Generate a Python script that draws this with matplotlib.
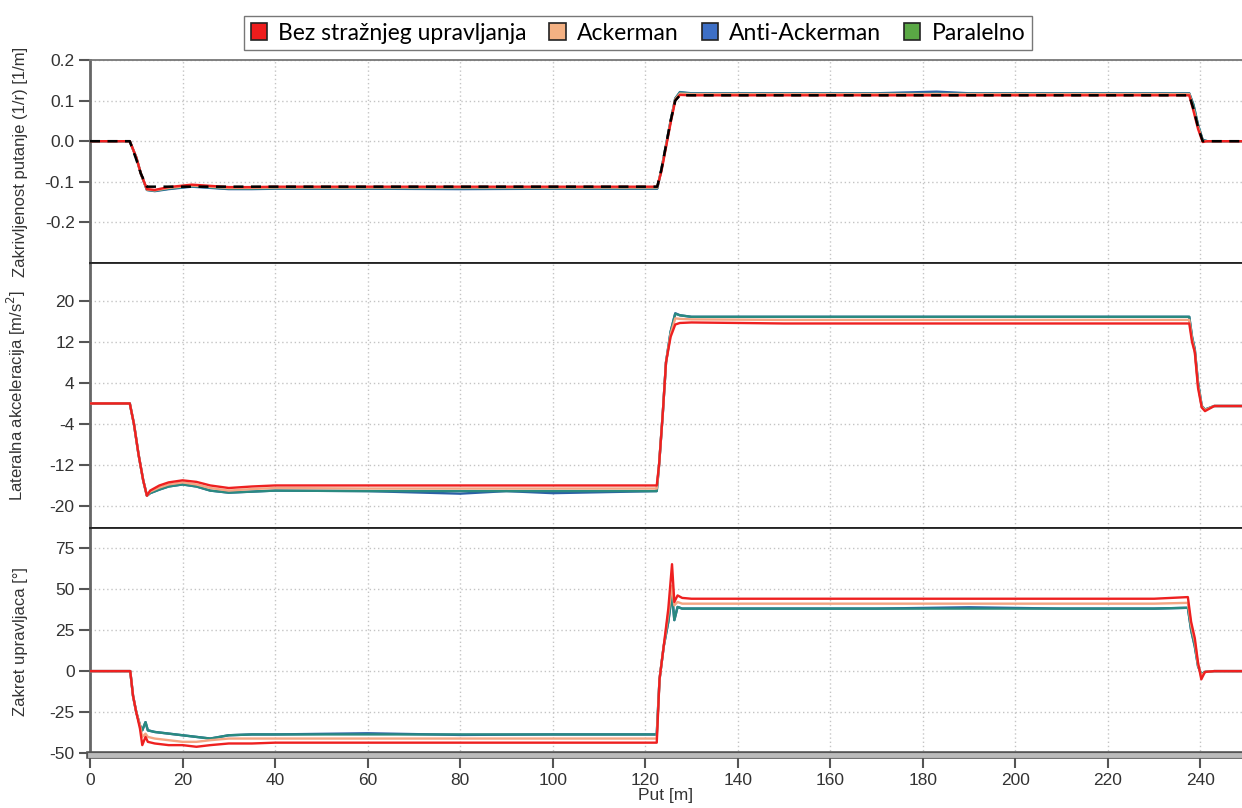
import matplotlib
matplotlib.use("Agg")
import matplotlib.pyplot as plt
import matplotlib.patches as mpatches
import matplotlib.patheffects as pe

plt.rcParams["font.family"] = ["Liberation Sans", "DejaVu Sans"]
plt.rcParams["axes.unicode_minus"] = False

# --- series names / colours ---
series_names = ["Bez stražnjeg upravljanja", "Ackerman", "Anti-Ackerman", "Paralelno"]
legend_colors = ["#ee1c1c", "#f4b183", "#3d6fc6", "#5aa845"]
line_colors = ["#ee2020", "#f4a582", "#2b5fa8", "#2a8a80"]

# --- curvature panel (1/m) ---
put_k = [0, 8.6, 10, 11, 12.3, 14, 17, 22, 26, 30, 35, 40, 60, 80, 100, 122.6,
         123.5, 124.5, 125.5, 126.5, 127.5, 130, 150, 170, 183, 190, 210, 230,
         237.6, 238.5, 239.5, 240.5, 241.5, 250]
k_ref = [0, 0, -0.045, -0.08, -0.112, -0.112, -0.112, -0.112, -0.112, -0.112, -0.112,
         -0.112, -0.112, -0.112, -0.112, -0.112, -0.07, -0.01, 0.05, 0.1, 0.113,
         0.113, 0.113, 0.113, 0.113, 0.113, 0.113, 0.113, 0.113, 0.08, 0.035, 0.0,
         0.0, 0.0]
k_bez = [0, 0, -0.04, -0.08, -0.118, -0.12, -0.113, -0.107, -0.11, -0.113, -0.113,
         -0.112, -0.112, -0.112, -0.112, -0.112, -0.075, -0.015, 0.045, 0.1, 0.114,
         0.113, 0.113, 0.113, 0.113, 0.113, 0.113, 0.113, 0.113, 0.075, 0.03, -0.002,
         0.0, 0.0]
k_ack = [0, 0, -0.04, -0.08, -0.119, -0.121, -0.115, -0.109, -0.112, -0.115, -0.115,
         -0.114, -0.114, -0.114, -0.114, -0.114, -0.072, -0.012, 0.048, 0.103, 0.117,
         0.116, 0.116, 0.116, 0.116, 0.116, 0.116, 0.116, 0.116, 0.08, 0.035, 0.0,
         0.0, 0.0]
k_anti = [0, 0, -0.04, -0.08, -0.12, -0.123, -0.118, -0.112, -0.115, -0.118, -0.118,
          -0.117, -0.117, -0.118, -0.117, -0.117, -0.07, -0.01, 0.05, 0.105, 0.121,
          0.118, 0.118, 0.118, 0.122, 0.118, 0.118, 0.118, 0.118, 0.09, 0.04, 0.003,
          0.0, 0.0]
k_par = [0, 0, -0.04, -0.08, -0.12, -0.122, -0.117, -0.111, -0.114, -0.117, -0.117,
         -0.116, -0.116, -0.116, -0.116, -0.116, -0.07, -0.01, 0.05, 0.105, 0.12,
         0.117, 0.117, 0.117, 0.117, 0.117, 0.117, 0.117, 0.117, 0.09, 0.04, 0.003,
         0.0, 0.0]

# --- lateral acceleration panel (m/s^2) ---
put_a = [0, 8.6, 9.5, 10.5, 11.5, 12.3, 13, 15, 17, 20, 23, 26, 30, 35, 40, 60, 80,
         90, 100, 122.5, 123, 123.8, 124.5, 125.5, 126.5, 127.5, 130, 150, 170, 190,
         210, 230, 237.6, 238.2, 238.8, 239.5, 240.3, 241, 243, 250]
a_bez = [0, 0, -4, -10, -15, -18, -17, -16, -15.4, -15, -15.3, -16, -16.5, -16.2, -16,
         -16, -16, -16, -16, -16, -12, -2, 8, 13, 15.4, 15.7, 15.8, 15.6, 15.6, 15.6,
         15.6, 15.6, 15.6, 12, 10, 3, -0.8, -1.5, -0.5, -0.5]
a_ack = [0, 0, -4, -10, -15, -18, -17.2, -16.4, -15.8, -15.4, -15.8, -16.5, -17, -16.7,
         -16.5, -16.6, -16.6, -16.6, -16.6, -16.6, -12, -2, 8, 13.5, 16.6, 16.5, 16.4,
         16.3, 16.3, 16.3, 16.3, 16.3, 16.3, 12.5, 10, 3.5, -0.6, -1.3, -0.5, -0.5]
a_anti = [0, 0, -4, -10, -15, -18, -17.5, -16.8, -16.2, -15.8, -16.2, -17, -17.4,
          -17.2, -17, -17.1, -17.6, -17.1, -17.5, -17.1, -12, -2, 8, 14, 17.6, 17.2,
          16.9, 16.9, 16.9, 16.9, 16.9, 16.9, 16.9, 13, 10.5, 4, -0.5, -1.2, -0.5,
          -0.5]
a_par = [0, 0, -4, -10, -15, -18, -17.5, -16.8, -16.2, -15.8, -16.2, -17, -17.4,
         -17.2, -17, -17.1, -17.1, -17.1, -17.1, -17.1, -12, -2, 8, 14, 17.5, 17.2,
         16.9, 16.9, 16.9, 16.9, 16.9, 16.9, 16.9, 13, 10.5, 4, -0.5, -1.2, -0.5, -0.5]

# --- steering angle panel (deg) ---
put_d = [0, 8.7, 9.3, 10, 10.8, 11.3, 12, 12.5, 14, 17, 20, 23, 26, 30, 35, 40, 60,
         80, 100, 122.5, 123.1, 124, 125, 125.8, 126.3, 127, 128, 130, 150, 170, 190,
         210, 230, 237.3, 238, 238.8, 239.5, 240.2, 241, 243, 250]
d_bez = [0, 0, -15, -25, -35, -45, -40, -43, -44, -45, -45, -46, -45, -44, -44, -43.5,
         -43.5, -43.5, -43.5, -43.5, -5, 15, 38, 65, 42, 46, 44.5, 44, 44, 44, 44, 44,
         44, 45, 30, 20, 5, -5, -0.5, 0, 0]
d_ack = [0, 0, -15, -25, -33, -40, -38, -40, -41, -42, -43, -43, -42, -41, -41, -41,
         -41, -41, -41, -41, -5, 15, 35, 52, 40, 42, 41, 41, 41, 41, 41, 41, 41, 41.5,
         28, 18, 4, -3, -0.5, 0, 0]
d_anti = [0, 0, -15, -25, -33, -36, -31, -36, -37, -38, -39, -40, -41, -39, -38.5,
          -38.5, -37.8, -38.8, -38.5, -38.5, -5, 15, 30, 47, 31, 39, 38, 38, 38, 38,
          38.8, 38, 38, 38.5, 25, 15, 3, -2, -0.5, 0, 0]
d_par = [0, 0, -15, -25, -33, -36, -31, -36, -37, -38, -39, -40, -41, -39, -38.5,
         -38.5, -38.5, -38.5, -38.5, -38.5, -5, 15, 30, 47, 31, 39, 38, 38, 38, 38, 38,
         38, 38, 38.5, 25, 15, 3, -2, -0.5, 0, 0]

panels = [
    (put_k, [k_bez, k_ack, k_anti, k_par], "Zakrivljenost putanje (1/r) [1/m]",
     (-0.3, 0.2), [-0.2, -0.1, 0.0, 0.1, 0.2], "{:.1f}"),
    (put_a, [a_bez, a_ack, a_anti, a_par], "Lateralna akceleracija [m/s$^2$]",
     (-24.3, 27.4), [-20, -12, -4, 4, 12, 20], "{:.0f}"),
    (put_d, [d_bez, d_ack, d_anti, d_par], "Zakret upravljaca [°]",
     (-51, 87), [-50, -25, 0, 25, 50, 75], "{:.0f}"),
]

fig = plt.figure(figsize=(12.42, 8.08), dpi=100)
gs = fig.add_gridspec(3, 1, height_ratios=[203, 265, 227], hspace=0,
                      left=90 / 1242, right=1.0, top=1 - 60 / 808, bottom=1 - 755 / 808)

axes = []
for i, (put, ys, label, ylim, yticks, fmt) in enumerate(panels):
    ax = fig.add_subplot(gs[i])
    axes.append(ax)
    # draw order: blue, green, salmon, red
    for idx in [2, 3, 1, 0]:
        ax.plot(put, ys[idx], color=line_colors[idx], lw=1.7, zorder=3 + (idx == 0))
    if i == 0:
        ax.plot(put_k, k_ref, color="black", lw=1.8, ls=(0, (4, 3)), zorder=5)

    ax.set_xlim(0, 249)
    ax.set_ylim(*ylim)
    ax.set_yticks(yticks)
    ax.set_yticklabels([fmt.format(v) for v in yticks])
    ax.set_xticks(range(0, 241, 20))
    ax.grid(True, color="#c4c4c4", ls=(0, (1, 2)), lw=1.0)
    ax.set_ylabel(label, fontsize=12, color="#333333", labelpad=12)
    ax.tick_params(axis="y", length=8, width=1.5, color="#555555",
                   labelsize=12.5, labelcolor="#333333", pad=3)
    ax.spines["left"].set_color("#666666")
    ax.spines["left"].set_linewidth(2)
    ax.spines["right"].set_visible(False)
    ax.spines["top"].set_color("#222222" if i > 0 else "#777777")
    ax.spines["top"].set_linewidth(1.3)
    ax.spines["bottom"].set_color("#222222")
    ax.spines["bottom"].set_linewidth(1.3)
    if i < 2:
        ax.tick_params(axis="x", length=0, labelbottom=False)

ax = axes[-1]
ax.spines["bottom"].set_color("#bbbbbb")
ax.spines["bottom"].set_linewidth(3.5)
ax.spines["bottom"].set_path_effects([pe.withStroke(linewidth=5.5, foreground="#555555")])
ax.tick_params(axis="x", length=9, width=1.5, color="#555555", labelsize=12.5,
               labelcolor="#333333", pad=4)
ax.set_xlabel("Put [m]", fontsize=12.5, color="#333333", labelpad=0)
fig.align_ylabels(axes)

handles = [mpatches.Patch(facecolor=c, edgecolor="#222222", lw=1.2, label=n)
           for c, n in zip(legend_colors, series_names)]
fig.legend(handles=handles, loc="center", bbox_to_anchor=(638 / 1242, 1 - 33 / 808),
           ncol=4, frameon=True, fancybox=False, edgecolor="#555555",
           prop={"family": "Lato", "size": 16.5}, handlelength=0.7, handleheight=0.8,
           handletextpad=0.5, columnspacing=1.0, borderpad=0.3)

fig.savefig("out.png", dpi=100)
